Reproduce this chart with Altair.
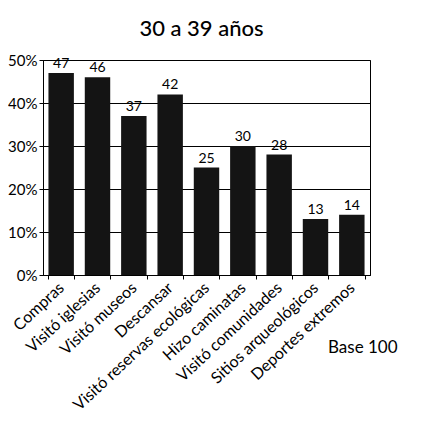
import altair as alt
import pandas as pd

categories = ["Compras", "Visitó iglesias", "Visitó museos", "Descansar",
              "Visitó reservas ecológicas", "Hizo caminatas", "Visitó comunidades",
              "Sitios arqueológicos", "Deportes extremos"]
values = [47, 46, 37, 42, 25, 30, 28, 13, 14]
y_ticks = [0, 10, 20, 30, 40, 50]

df = pd.DataFrame({"cat": categories, "val": values})
FONT = "Lato"

x = alt.X("cat:N", sort=categories, title=None,
          scale=alt.Scale(paddingInner=0.3, paddingOuter=0.15),
          axis=alt.Axis(labelAngle=-43, labelAlign="right", labelBaseline="middle",
                        labelFontSize=16, labelFont=FONT, labelColor="black",
                        labelPadding=6, domainColor="black", tickColor="black",
                        tickSize=4, tickBand="extent", labelOverlap=False, labelLimit=300))
y = alt.Y("val:Q", title=None, scale=alt.Scale(domain=[0, 50]),
          axis=alt.Axis(values=y_ticks, labelExpr="datum.value + '%'",
                        labelFontSize=15, labelFont=FONT, labelColor="black",
                        grid=True, gridColor="black", gridOpacity=1, gridWidth=1,
                        domainColor="black", tickColor="black", tickSize=4,
                        labelPadding=2))

bars = alt.Chart(df).mark_bar(color="#141414").encode(x=x, y=y)
labels = alt.Chart(df).mark_text(dy=-9, fontSize=14, font=FONT, color="black").encode(
    x=alt.X("cat:N", sort=categories), y="val:Q", text="val:Q")
base = alt.Chart(pd.DataFrame({"t": ["Base 100"]})).mark_text(
    fontSize=17, font=FONT, color="black", align="left", baseline="middle").encode(
    x=alt.value(285), y=alt.value(288), text="t:N")

chart = alt.layer(bars, labels, base).properties(
    width=327, height=215,
    title=alt.TitleParams("30 a 39 años", font=FONT, fontSize=22, fontWeight=500,
                          color="black", anchor="middle", offset=12, dx=-5),
    autosize=alt.AutoSizeParams(type="none"),
    padding={"left": 35, "top": 52, "right": 30, "bottom": 140},
).configure_view(stroke="black", strokeWidth=1)

chart.save("out.html", embed_options={"renderer": "svg", "actions": False})
